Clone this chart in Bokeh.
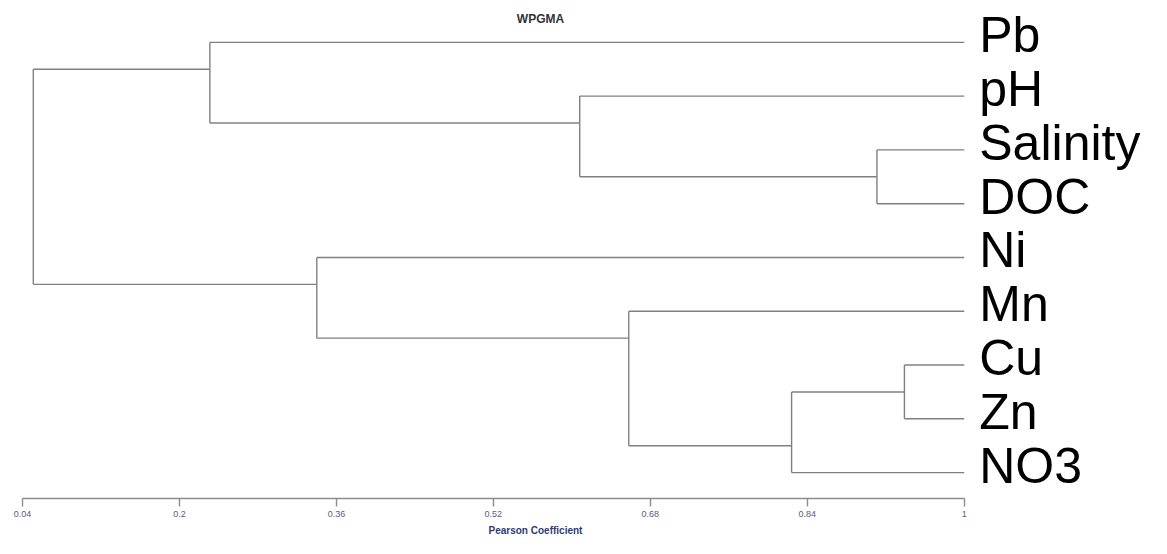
from bokeh.plotting import figure
from bokeh.models import (Range1d, LinearAxis, FixedTicker, CustomJSTickFormatter,
                          Title, Label, ColumnDataSource)
from bokeh.core.properties import value
from bokeh.embed import file_html
from bokeh.resources import INLINE

# ---- data ----
leaf_labels = ["Pb", "pH", "Salinity", "DOC", "Ni", "Mn", "Cu", "Zn", "NO3"]
leaf_height = 1.0
# merges: child a, child b, Pearson coefficient at which they join
merge_a = ["Salinity", "pH", "Pb", "Cu", "n4", "Mn", "Ni", "n3"]
merge_b = ["DOC", "n1", "n2", "Zn", "NO3", "n5", "n6", "n7"]
merge_h = [0.911, 0.608, 0.231, 0.939, 0.824, 0.658, 0.340, 0.051]
tick_values = [0.04, 0.2, 0.36, 0.52, 0.68, 0.84, 1.0]
tick_labels = ["0.04", "0.2", "0.36", "0.52", "0.68", "0.84", "1"]
title_text = "WPGMA"
xlabel_text = "Pearson Coefficient"

# ---- build node geometry ----
pos = {}      # name -> (y, height, min_leaf, max_leaf)
for i, name in enumerate(leaf_labels):
    pos[name] = (float(i), leaf_height, i, i)
for k, (a, b, h) in enumerate(zip(merge_a, merge_b, merge_h)):
    ya, ha, mina, maxa = pos[a]
    yb, hb, minb, maxb = pos[b]
    y = (maxa + minb) / 2.0
    pos["n%d" % (k + 1)] = (y, h, min(mina, minb), max(maxa, maxb))

x0, y0, x1, y1 = [], [], [], []
for a, b, h in zip(merge_a, merge_b, merge_h):
    ya, ha = pos[a][0], pos[a][1]
    yb, hb = pos[b][0], pos[b][1]
    x0.append(h); x1.append(h); y0.append(ya); y1.append(yb)
    x0.append(h); x1.append(ha); y0.append(ya); y1.append(ya)
    x0.append(h); x1.append(hb); y0.append(yb); y1.append(yb)

seg_src = ColumnDataSource(dict(x0=x0, y0=y0, x1=x1, y1=y1))
lab_src = ColumnDataSource(dict(x=[leaf_height] * len(leaf_labels),
                                y=list(range(len(leaf_labels))),
                                t=leaf_labels))

p = figure(width=1151, height=538, output_backend="svg", toolbar_location=None,
           x_range=Range1d(0.017574, 1.190867), y_range=Range1d(8.4815, -0.7778),
           min_border_left=0, min_border_right=0, min_border_top=0,
           min_border_bottom=38, x_axis_type=None, y_axis_type=None)
p.outline_line_color = None
p.xgrid.visible = False
p.ygrid.visible = False
p.background_fill_color = "white"
p.border_fill_color = "white"

p.segment(x0="x0", y0="y0", x1="x1", y1="y1", source=seg_src,
          line_color="#808080", line_width=1.4)

p.text(x="x", y="y", text="t", source=lab_src, x_offset=15, y_offset=-7,
       text_baseline="middle", text_align="left",
       text_font=value("Liberation Sans"), text_font_size="50px",
       text_color="black")

ax = LinearAxis(ticker=FixedTicker(ticks=tick_values), bounds=(0.04, 1.0),
                formatter=CustomJSTickFormatter(args=dict(labels=tick_labels),
                                                code="return labels[index];"))
ax.axis_line_color = "#8c8c8c"
ax.axis_line_width = 1.4
ax.major_tick_line_color = "#8c8c8c"
ax.major_tick_line_width = 1.4
ax.major_tick_out = 8
ax.major_tick_in = 0
ax.minor_tick_out = 0
ax.minor_tick_in = 0
ax.major_label_standoff = 4
ax.major_label_text_font = "Liberation Sans"
ax.major_label_text_font_size = "9px"
ax.major_label_text_color = "#5a5a86"
p.add_layout(ax, "below")

p.add_layout(Title(text=xlabel_text, align="left", offset=488,
                   text_font="Liberation Sans", text_font_size="10px",
                   text_font_style="bold", text_color="#2e3a78", standoff=6),
             "below")
p.add_layout(Label(text=title_text, x=540, y=480, x_units="screen", y_units="screen",
                   text_align="center", text_baseline="middle",
                   text_font="Liberation Sans", text_font_size="12px",
                   text_font_style="bold", text_color="#333333"))

open("out.html", "w").write(file_html(p, INLINE))
